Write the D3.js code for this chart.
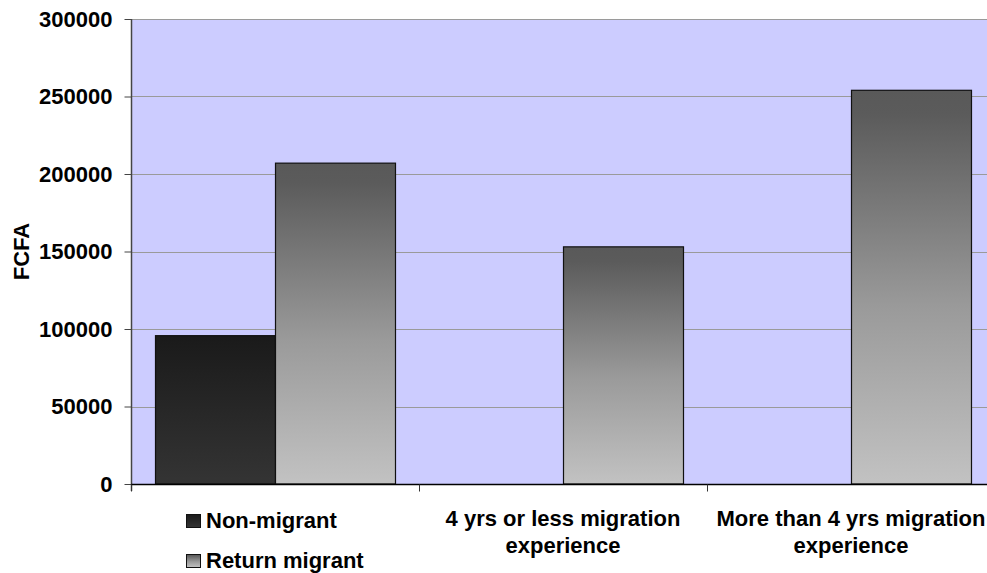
<!DOCTYPE html>
<html>
<head>
<meta charset="utf-8">
<script src="https://cdn.jsdelivr.net/npm/d3@7"></script>
<style>
  html, body { margin: 0; padding: 0; background: #ffffff; }
  svg { display: block; }
  text { font-family: "Liberation Sans", Arial, sans-serif; font-weight: bold; fill: #000; }
</style>
</head>
<body>
<svg id="chart" width="987" height="573"></svg>
<script>
// Average amounts (FCFA) by migration status
const categories = ["all", "short", "long"];
const categoryLabels = [
  [],
  ["4 yrs or less migration", "experience"],
  ["More than 4 yrs migration", "experience"]
];
const seriesNames = ["Non-migrant", "Return migrant"];
const nonMigrant = [95700, null, null];
const returnMigrant = [207000, 153000, 254000];
const yTicks = [0, 50000, 100000, 150000, 200000, 250000, 300000];
const yTitle = "FCFA";

const svg = d3.select("#chart");
const plot = { left: 131, right: 995, top: 19, bottom: 484 };
const fontSize = 22;

const x = d3.scaleBand().domain(categories).range([plot.left, plot.right]).padding(0);
const xInner = d3.scaleBand().domain(seriesNames).range([0, x.bandwidth()])
  .paddingInner(0).paddingOuter(0.2);
const y = d3.scaleLinear().domain([0, 300000]).range([plot.bottom, plot.top]);

// Gradients for the two series
const defs = svg.append("defs");
function vGrad(id, stops) {
  const g = defs.append("linearGradient").attr("id", id)
    .attr("x1", 0).attr("y1", 0).attr("x2", 0).attr("y2", 1);
  stops.forEach(([o, c]) => g.append("stop").attr("offset", o).attr("stop-color", c));
}
vGrad("gradNon", [[0, "#1a1a1a"], [1, "#343434"]]);
vGrad("gradRet", [[0, "#595959"], [0.06, "#5b5b5b"], [0.55, "#9a9a9a"], [1, "#c2c2c2"]]);
const fills = { "Non-migrant": "url(#gradNon)", "Return migrant": "url(#gradRet)" };

// Plot background
svg.append("rect")
  .attr("x", plot.left).attr("y", plot.top)
  .attr("width", plot.right - plot.left).attr("height", plot.bottom - plot.top)
  .attr("fill", "#ccccff");

// Horizontal gridlines
svg.append("g").selectAll("line").data(yTicks.filter(d => d > 0)).join("line")
  .attr("x1", plot.left).attr("x2", plot.right)
  .attr("y1", d => Math.round(y(d)) + 0.5).attr("y2", d => Math.round(y(d)) + 0.5)
  .attr("stroke", "#9a9a9a").attr("stroke-width", 1);

// Bars
const rows = [];
categories.forEach((c, i) => {
  if (nonMigrant[i] != null) rows.push({ cat: c, series: "Non-migrant", value: nonMigrant[i] });
  if (returnMigrant[i] != null) rows.push({ cat: c, series: "Return migrant", value: returnMigrant[i] });
});
svg.append("g").selectAll("rect").data(rows).join("rect")
  .attr("x", d => x(d.cat) + xInner(d.series) + 0.5)
  .attr("y", d => y(d.value))
  .attr("width", xInner.bandwidth())
  .attr("height", d => y(0) - y(d.value))
  .attr("fill", d => fills[d.series])
  .attr("stroke", "#111").attr("stroke-width", 1.2);

// Y axis
const yAxis = svg.append("g")
  .attr("transform", `translate(${plot.left + 0.5},0)`)
  .call(d3.axisLeft(y).tickValues(yTicks).tickSize(7).tickPadding(12).tickFormat(d3.format("d")));
yAxis.select(".domain").attr("stroke", "#444").attr("stroke-width", 1.5)
  .attr("d", `M0,${plot.top}V${plot.bottom + 7}`);
yAxis.selectAll(".tick line").attr("stroke", "#444");
yAxis.selectAll(".tick text")
  .style("font-size", fontSize + "px").style("font-family", "'Liberation Sans', Arial, sans-serif")
  .style("font-weight", "bold").attr("fill", "#000");

// X axis
const xAxis = svg.append("g")
  .attr("transform", `translate(0,${plot.bottom + 0.5})`)
  .call(d3.axisBottom(x).tickValues([]).tickSizeOuter(0));
xAxis.select(".domain").attr("stroke", "#000").attr("stroke-width", 1.5)
  .attr("d", `M${plot.left},0H${plot.right}`);
xAxis.selectAll("line.cat").data(categories).join("line").attr("class", "cat")
  .attr("x1", d => Math.round(x(d)) + 0.5).attr("x2", d => Math.round(x(d)) + 0.5)
  .attr("y1", 0).attr("y2", 7).attr("stroke", "#333").attr("stroke-width", 1);

// Category labels
const catText = svg.append("g").selectAll("text").data(categories).join("text")
  .attr("x", d => x(d) + x.bandwidth() / 2)
  .attr("y", 526)
  .attr("text-anchor", "middle")
  .style("font-size", fontSize + "px");
catText.selectAll("tspan").data((d, i) => categoryLabels[i]).join("tspan")
  .attr("x", function () { return d3.select(this.parentNode).attr("x"); })
  .attr("dy", (d, i) => i === 0 ? 0 : 27)
  .text(d => d);

// Y axis title
svg.append("text")
  .attr("transform", `translate(29,${(plot.top + plot.bottom) / 2}) rotate(-90)`)
  .attr("text-anchor", "middle")
  .style("font-size", fontSize + "px")
  .text(yTitle);

// Legend
const legend = svg.append("g").selectAll("g").data(seriesNames).join("g")
  .attr("transform", (d, i) => `translate(186,${514 + i * 40})`);
legend.append("rect")
  .attr("x", 0.5).attr("y", 0.5).attr("width", 14).attr("height", 13)
  .attr("fill", d => fills[d]).attr("stroke", "#111").attr("stroke-width", 1);
legend.append("text")
  .attr("x", 20).attr("y", 13.5)
  .style("font-size", fontSize + "px")
  .text(d => d);
</script>
</body>
</html>
